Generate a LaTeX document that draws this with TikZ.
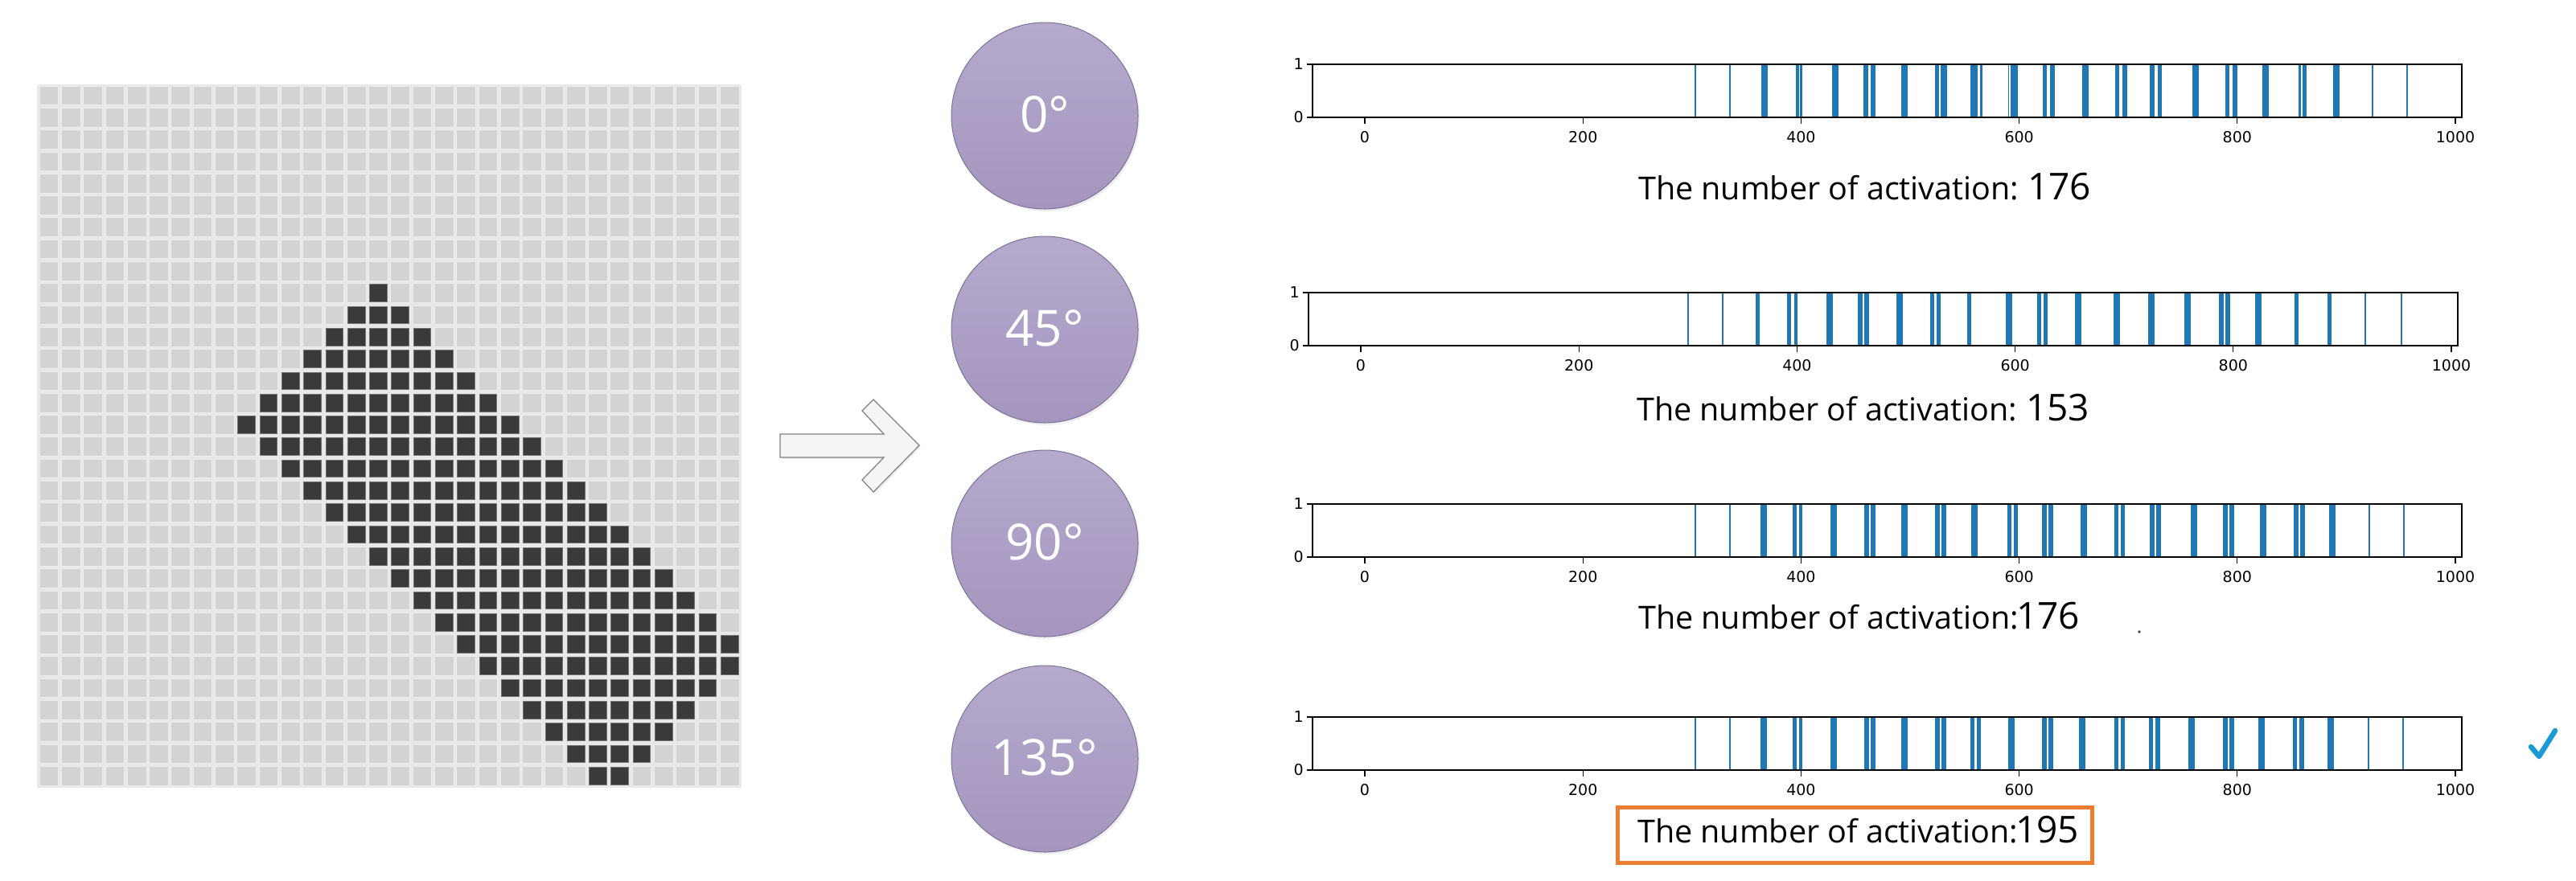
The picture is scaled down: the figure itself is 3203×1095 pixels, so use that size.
\documentclass[tikz,border=0pt]{standalone}
\usepackage{fontspec}
\setmainfont{Open Sans}
\newfontfamily\mplfont{DejaVu Sans}
\usetikzlibrary{shadows}

\definecolor{cellL}{HTML}{D3D3D3}
\definecolor{cellLe}{HTML}{EDEDED}
\definecolor{cellD}{HTML}{3A3A3A}
\definecolor{gridbg}{HTML}{E8E8E8}
\definecolor{circT}{HTML}{B5AACC}
\definecolor{circB}{HTML}{A595BF}
\definecolor{circE}{HTML}{7D7199}
\definecolor{spkblue}{HTML}{1F77B4}
\definecolor{orng}{HTML}{ED7D31}
\definecolor{checkblue}{HTML}{1A9AD6}

\tikzset{
  lcell/.style={fill=cellL, draw=cellLe, line width=0.8},
  dcell/.style={fill=cellD, draw=black!55, line width=0.8},
  angle/.style={circle, minimum size=232, inner sep=0, top color=circT, bottom color=circB,
    draw=circE, line width=1, text=white, font=\fontsize{62}{70}\selectfont,
    drop shadow={opacity=0.12, shadow xshift=2pt, shadow yshift=-3pt}},
  axbox/.style={draw=black, line width=1.6},
  tk/.style={draw=black, line width=1.2},
  tklab/.style={font=\mplfont\fontsize{19}{22}\selectfont, inner sep=0},
  spk/.style={draw=spkblue},
  actlab/.style={anchor=base west, inner sep=0, font=\fontsize{39.5}{46}\selectfont},
  arrowshape/.style={fill=black!4, draw=black!50, line width=1.2,
    drop shadow={opacity=0.15, shadow xshift=2pt, shadow yshift=-2pt}},
}

% #1 = x of data value 0, #2 = top y, #3 = spikes (pos/width px), #4 = name
\newcommand{\spkplot}[4]{%
  \pgfmathsetmacro{\pL}{#1-48*1.356}%
  \pgfmathsetmacro{\pR}{#1+1006*1.356}%
  \pgfmathsetmacro{\pB}{#2+66}%
  \foreach \p/\w in {#3}{\draw[spk, line width=\w] ({#1+\p*1.356},#2) -- ({#1+\p*1.356},\pB);}
  \draw[axbox] (\pL,#2) rectangle (\pR,\pB);
  \foreach \t in {0,200,400,600,800,1000}{
    \draw[tk] ({#1+\t*1.356},\pB) -- ++(0,8);
    \node[tklab, anchor=north] (#4x\t) at ({#1+\t*1.356},\pB+17) {\t};
  }
  \draw[tk] (\pL,#2) -- ++(-7,0);
  \draw[tk] (\pL,\pB) -- ++(-7,0);
  \node[tklab, anchor=east] (#4y1) at (\pL-11,#2) {1};
  \node[tklab, anchor=east] (#4y0) at (\pL-11,\pB) {0};
}

\begin{document}
\begin{tikzpicture}[x=1pt, y=-1pt]
\useasboundingbox (0,0) rectangle (3203,1095);
\fill[white] (0,0) rectangle (3203,1095);

% ---- pixel grid ----
\fill[gridbg] (46,105) rectangle (922,980);
\foreach \r in {0,...,31}{
  \foreach \c in {0,...,31}{
    \pgfmathtruncatemacro{\lo}{max(24-\r,\r-6)}
    \pgfmathtruncatemacro{\hi}{min(\r+6,57-\r)}
    \pgfmathtruncatemacro{\isd}{(\r>=9)&&(\c>=\lo)&&(\c<=\hi)}
    \ifnum\isd=1
      \draw[dcell] ({50+27.3*\c},{108+27.3*\r}) rectangle ++(21.7,21.7);
    \else
      \draw[lcell] ({49+27.3*\c},{107+27.3*\r}) rectangle ++(23.7,23.7);
    \fi
  }
}

% ---- block arrow ----
\draw[arrowshape] (970,540) -- (1099,540) -- (1072,511) -- (1086,497) -- (1143,554)
  -- (1086,612) -- (1072,597) -- (1099,569) -- (970,569) -- cycle;

% ---- angle circles ----
\node[angle] (a0) at (1299,144) {\raisebox{4pt}{0°}};
\node[angle] (a45) at (1299,410) {\raisebox{4pt}{45°}};
\node[angle] (a90) at (1299,676) {\raisebox{4pt}{90°}};
\node[angle] (a135) at (1299,944) {\raisebox{4pt}{135°}};

% ---- spike plots ----
\spkplot{1697}{80}{303/2,335/2,366.6/7.7,396.6/4,400.3/3.3,431.2/8.3,459.5/6.7,465.9/6,494.9/8.3,524.9/4.7,531.1/8.3,558.5/8.3,565.3/3.3,590.4/1.7,595.4/9,623.6/5.7,630.5/5.7,661/8,690/5.5,697/5.5,722/5.5,729/5.5,762/8,791/5.5,798/5.5,826/8,857/3,862/5,891/8,924/2,956/2}{p1}
\spkplot{1692}{364}{300/2,332/2,364/5,393/5,399/4,430/8,458/5.5,464/5.5,494/8,524/5.5,530/5.5,558/5,594/8,622/5.5,628/5.5,658/8,693/8,725/8,758/8,789/5.5,795/5.5,823/8,858/5,888/5,921/2,954/2}{p2}
\spkplot{1697}{627}{303/2,335/2,366/8,394/5,400/4,430/8,460/5.5,466/5.5,495/8,525/5.5,531/5.5,559/8,591/5.5,597/5.5,623/5.5,629/5.5,659/8,689/5.5,695/5.5,722/5.5,728/5.5,760/8,789/5.5,795/5.5,824/8,854/5.5,860/5.5,887/8,921/2,953/2}{p3}
\spkplot{1697}{892}{303/2,335/2,366/8,394/5,400/4,430/8,460/5.5,466/5.5,495/8,525/5.5,531/5.5,557/5.5,563/5.5,593/8,623/5.5,629/5.5,658/8,689/5.5,695/5.5,721/5.5,727/5.5,758/8,789/5.5,795/5.5,822/8,853/5.5,859/5.5,886/8,920/2,952/2}{p4}

% ---- activation labels ----
\node[actlab] (l1) at (2037,248) {The number of activation:\hspace{11pt}{\fontsize{46}{50}\selectfont 176}};
\node[actlab] (l2) at (2035,523) {The number of activation:\hspace{11pt}{\fontsize{46}{50}\selectfont 153}};
\node[actlab] (l3) at (2037,782) {The number of activation:\hspace{-3pt}{\fontsize{46}{50}\selectfont 176}};
\node[actlab] (l4) at (2036,1048) {The number of activation:\hspace{-3pt}{\fontsize{46}{50}\selectfont 195}};
\fill[black!75] (2660,786) circle (1.8);

% ---- highlight box and check mark ----
\node[draw=orng, line width=5, minimum width=590, minimum height=69, inner sep=0] (hl) at (2306,1038.5) {};
\draw[checkblue, line width=6.5, line cap=round, line join=round] (3147,929) -- (3157,941) -- (3177,909);
\end{tikzpicture}
\end{document}
